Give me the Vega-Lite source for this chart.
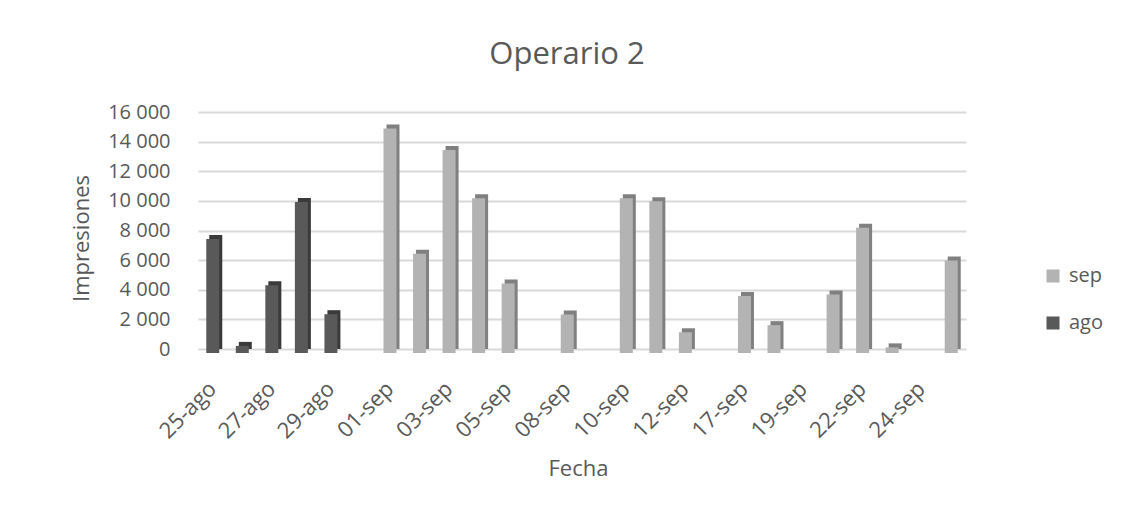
{
  "$schema": "https://vega.github.io/schema/vega-lite/v6.json",
  "autosize": {"type": "none"},
  "width": 768,
  "height": 237,
  "padding": {"left": 198, "top": 112, "right": 156, "bottom": 167},
  "background": "white",
  "config": {
    "font": "Open Sans",
    "view": {"stroke": null}
  },
  "title": {
    "text": "Operario 2",
    "fontSize": 31,
    "fontWeight": "normal",
    "color": "#595959",
    "anchor": "middle",
    "baseline": "alphabetic",
    "offset": 40,
    "dy": 33,
    "dx": -15
  },
  "data": {
    "values": [
      {"fecha": "25-ago", "mes": "ago", "valor": 7700},
      {"fecha": "26-ago", "mes": "ago", "valor": 480},
      {"fecha": "27-ago", "mes": "ago", "valor": 4580},
      {"fecha": "28-ago", "mes": "ago", "valor": 10200},
      {"fecha": "29-ago", "mes": "ago", "valor": 2620},
      {"fecha": "01-sep", "mes": "sep", "valor": 15150},
      {"fecha": "02-sep", "mes": "sep", "valor": 6700},
      {"fecha": "03-sep", "mes": "sep", "valor": 13700},
      {"fecha": "04-sep", "mes": "sep", "valor": 10450},
      {"fecha": "05-sep", "mes": "sep", "valor": 4700},
      {"fecha": "08-sep", "mes": "sep", "valor": 2600},
      {"fecha": "10-sep", "mes": "sep", "valor": 10450},
      {"fecha": "11-sep", "mes": "sep", "valor": 10250},
      {"fecha": "12-sep", "mes": "sep", "valor": 1400},
      {"fecha": "17-sep", "mes": "sep", "valor": 3850},
      {"fecha": "18-sep", "mes": "sep", "valor": 1880},
      {"fecha": "21-sep", "mes": "sep", "valor": 3950},
      {"fecha": "22-sep", "mes": "sep", "valor": 8450},
      {"fecha": "23-sep", "mes": "sep", "valor": 380},
      {"fecha": "25-sep", "mes": "sep", "valor": 6250}
    ]
  },
  "encoding": {
    "x": {
      "field": "fecha",
      "type": "nominal",
      "sort": null,
      "scale": {
        "domain": ["25-ago","26-ago","27-ago","28-ago","29-ago","31-ago","01-sep","02-sep","03-sep","04-sep","05-sep","07-sep","08-sep","09-sep","10-sep","11-sep","12-sep","14-sep","17-sep","18-sep","19-sep","21-sep","22-sep","23-sep","24-sep","25-sep"],
        "paddingInner": 0,
        "paddingOuter": 0
      },
      "axis": {
        "values": ["25-ago","27-ago","29-ago","01-sep","03-sep","05-sep","08-sep","10-sep","12-sep","17-sep","19-sep","22-sep","24-sep"],
        "title": "Fecha",
        "titleFontSize": 22,
        "titleFontWeight": "normal",
        "titleColor": "#595959",
        "titleX": 380,
        "titleY": 126,
        "titleBaseline": "alphabetic",
        "labelAngle": -45,
        "labelAlign": "right",
        "labelBaseline": "middle",
        "labelFontSize": 22,
        "labelColor": "#595959",
        "labelPadding": 36,
        "domain": false,
        "ticks": false,
        "grid": false
      }
    },
    "y": {
      "field": "valor",
      "type": "quantitative",
      "scale": {"domain": [0, 16000], "nice": false},
      "axis": {
        "values": [0, 2000, 4000, 6000, 8000, 10000, 12000, 14000, 16000],
        "format": ",d",
        "labelExpr": "replace(datum.label, ',', ' ')",
        "title": "Impresiones",
        "titleFontSize": 22,
        "titleFontWeight": "normal",
        "titleColor": "#595959",
        "titleX": -110,
        "titleY": 126,
        "titleBaseline": "alphabetic",
        "labelFontSize": 20,
        "labelColor": "#595959",
        "labelPadding": 28,
        "domain": false,
        "ticks": false,
        "grid": true,
        "gridColor": "#d9d9d9",
        "gridWidth": 2
      }
    }
  },
  "layer": [
    {
      "mark": {"type": "bar", "width": 13, "xOffset": 3, "yOffset": 0, "y2Offset": 0},
      "encoding": {
        "fill": {
          "condition": {"test": "datum.mes === 'sep'", "value": "#808080"},
          "value": "#3a3a3a"
        }
      }
    },
    {
      "mark": {"type": "bar", "width": 13, "xOffset": 0, "yOffset": 4, "y2Offset": 4},
      "encoding": {
        "color": {
          "field": "mes",
          "type": "nominal",
          "scale": {"domain": ["sep", "ago"], "range": ["#b3b3b3", "#595959"]},
          "legend": {
            "title": null,
            "orient": "none",
            "legendX": 845,
            "legendY": 154,
            "symbolType": "square",
            "symbolSize": 169,
            "symbolStrokeWidth": 0,
            "labelFontSize": 20,
            "labelColor": "#595959",
            "labelOffset": 6,
            "rowPadding": 27
          }
        }
      }
    }
  ]
}
